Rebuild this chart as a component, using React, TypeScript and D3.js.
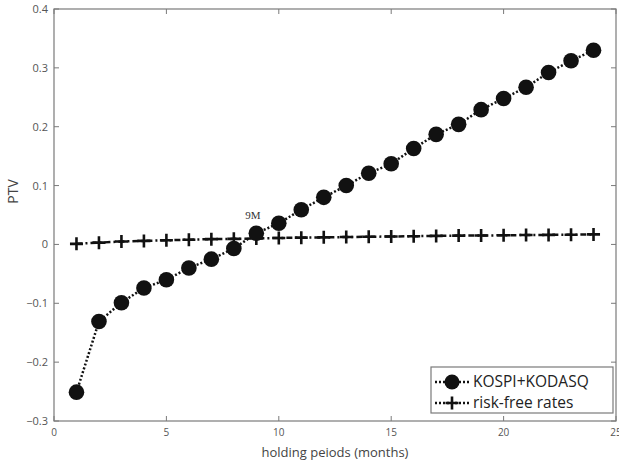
import * as d3 from 'd3';
import React, { useRef, useEffect } from 'react';

// holding periods in months
const months = [1, 2, 3, 4, 5, 6, 7, 8, 9, 10, 11, 12, 13, 14, 15, 16, 17, 18, 19, 20, 21, 22, 23, 24];
const kospiKodasq = [-0.251, -0.131, -0.099, -0.074, -0.060, -0.040, -0.025, -0.007, 0.019, 0.036,
  0.059, 0.080, 0.100, 0.121, 0.137, 0.163, 0.187, 0.204, 0.229, 0.248, 0.267, 0.292, 0.312, 0.330];
const riskFree = [0.001, 0.003, 0.005, 0.006, 0.007, 0.008, 0.009, 0.0095, 0.010, 0.011, 0.0115, 0.012,
  0.0125, 0.013, 0.0135, 0.014, 0.0145, 0.015, 0.0152, 0.0155, 0.016, 0.0162, 0.0165, 0.017];
const xTicks = [0, 5, 10, 15, 20, 25];
const yTicks = [-0.3, -0.2, -0.1, 0, 0.1, 0.2, 0.3, 0.4];
const seriesNames = ['KOSPI+KODASQ', 'risk-free rates'];

function App() {
  const ref = useRef(null);

  useEffect(() => {
    const width = 619;
    const height = 462;
    const margin = { top: 9, right: 3, bottom: 41, left: 54 };
    const svg = d3.select(ref.current);
    svg.selectAll('*').remove();

    const x = d3.scaleLinear().domain([0, 25]).range([margin.left, width - margin.right]);
    const y = d3.scaleLinear().domain([-0.3, 0.4]).range([height - margin.bottom, margin.top]);
    const font = "'Open Sans', 'Noto Sans', sans-serif";
    const axisCol = '#7a7a7a';
    const labCol = '#555';

    svg.append('rect').attr('width', width).attr('height', height).attr('fill', '#fff');

    // box
    svg.append('rect')
      .attr('x', x(0)).attr('y', y(0.4))
      .attr('width', x(25) - x(0)).attr('height', y(-0.3) - y(0.4))
      .attr('fill', 'none').attr('stroke', axisCol).attr('stroke-width', 1.2);

    // ticks (inward, on all four sides)
    const tl = 5;
    xTicks.forEach(t => {
      svg.append('line').attr('x1', x(t)).attr('x2', x(t)).attr('y1', y(-0.3)).attr('y2', y(-0.3) - tl)
        .attr('stroke', axisCol);
      svg.append('line').attr('x1', x(t)).attr('x2', x(t)).attr('y1', y(0.4)).attr('y2', y(0.4) + tl)
        .attr('stroke', axisCol);
      svg.append('text').attr('x', x(t)).attr('y', y(-0.3) + 15).attr('text-anchor', 'middle')
        .attr('font-family', font).attr('font-size', 10).attr('fill', labCol).text(t);
    });
    yTicks.forEach(t => {
      svg.append('line').attr('x1', x(0)).attr('x2', x(0) + tl).attr('y1', y(t)).attr('y2', y(t))
        .attr('stroke', axisCol);
      svg.append('line').attr('x1', x(25)).attr('x2', x(25) - tl).attr('y1', y(t)).attr('y2', y(t))
        .attr('stroke', axisCol);
      svg.append('text').attr('x', x(0) - 6).attr('y', y(t) + 4).attr('text-anchor', 'end')
        .attr('font-family', font).attr('font-size', 11).attr('fill', labCol)
        .text(t === 0 ? '0' : d3.format('.1f')(t));
    });

    // axis titles
    svg.append('text').attr('x', (x(0) + x(25)) / 2).attr('y', 457).attr('text-anchor', 'middle')
      .attr('font-family', font).attr('font-size', 13).attr('fill', '#444')
      .text('holding peiods (months)');
    svg.append('text').attr('transform', `translate(18,${y(0.09)}) rotate(-90)`)
      .attr('text-anchor', 'middle')
      .attr('font-family', font).attr('font-size', 14).attr('fill', '#444').text('PTV');

    const line = d3.line<number>().x((d, i) => x(months[i])).y(d => y(d));

    // risk-free rates: dash-dot line with plus markers
    svg.append('path').datum(riskFree).attr('d', line).attr('fill', 'none')
      .attr('stroke', '#111').attr('stroke-width', 2.5).attr('stroke-dasharray', '6,3,2,3');
    riskFree.forEach((v, i) => {
      const cx = x(months[i]), cy = y(v), s = 6.5;
      svg.append('path').attr('d', `M${cx - s},${cy}H${cx + s}M${cx},${cy - s}V${cy + s}`)
        .attr('stroke', '#111').attr('stroke-width', 2.6);
    });

    // KOSPI+KODASQ: dotted line with filled circles
    svg.append('path').datum(kospiKodasq).attr('d', line).attr('fill', 'none')
      .attr('stroke', '#111').attr('stroke-width', 2.5).attr('stroke-dasharray', '2,2');
    svg.selectAll('circle.k').data(kospiKodasq).enter().append('circle')
      .attr('cx', (d, i) => x(months[i])).attr('cy', d => y(d)).attr('r', 7.8).attr('fill', '#111');

    svg.append('text').attr('x', x(9) - 11).attr('y', y(0.019) - 14)
      .attr('font-family', "'Liberation Serif', serif").attr('font-size', 11).attr('fill', '#333').text('9M');

    // legend
    const lg = svg.append('g');
    const lx = 431, ly = 367, lw = 182, lh = 46;
    lg.append('rect').attr('x', lx).attr('y', ly).attr('width', lw).attr('height', lh)
      .attr('fill', '#fff').attr('stroke', axisCol).attr('stroke-width', 1.2);
    seriesNames.forEach((name, i) => {
      const yy = ly + 15 + i * 21;
      lg.append('line').attr('x1', lx + 4).attr('x2', lx + 38).attr('y1', yy).attr('y2', yy)
        .attr('stroke', '#111').attr('stroke-width', 2.5).attr('stroke-dasharray', '2,2');
      if (i === 0) {
        lg.append('circle').attr('cx', lx + 21).attr('cy', yy).attr('r', 7.5).attr('fill', '#111');
      } else {
        const s = 6.5, cx = lx + 21;
        lg.append('path').attr('d', `M${cx - s},${yy}H${cx + s}M${cx},${yy - s}V${yy + s}`)
          .attr('stroke', '#111').attr('stroke-width', 2.6);
      }
      lg.append('text').attr('x', lx + 42).attr('y', yy + 5)
        .attr('font-family', font).attr('font-size', 15.5).attr('fill', '#222').text(name);
    });
  }, []);

  return (
    <svg ref={ref} width={619} height={462} style={{ position: 'absolute', left: 0, top: 0 }}></svg>
  );
}

export default App;
